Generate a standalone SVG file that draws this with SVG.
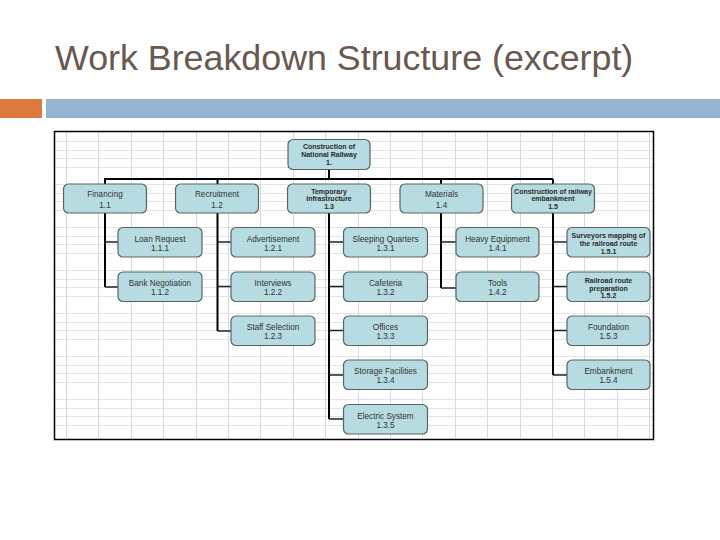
<svg xmlns="http://www.w3.org/2000/svg" width="720" height="540" viewBox="0 0 720 540">
<style>
.title{font-family:"Liberation Sans",Arial,sans-serif;font-size:35.8px;fill:#685850}
.box{fill:#b6dbe0;stroke:#5a6466;stroke-width:1.2}
.t{font-family:"Liberation Sans",Arial,sans-serif;font-size:8.2px;fill:#333;text-anchor:middle}
.b{font-family:"Liberation Sans",Arial,sans-serif;font-size:7px;font-weight:bold;fill:#2a2a2a;text-anchor:middle}
.gv{stroke:#d6dae0;stroke-width:1}
.gh{stroke:#e0e3e7;stroke-width:1}
.main{stroke:#000;stroke-width:2;fill:none}
.br{stroke:#222;stroke-width:1.6;fill:none}
</style>
<rect width="720" height="540" fill="#fff"/>
<text class="title" x="55" y="70">Work Breakdown Structure (excerpt)</text>
<rect x="0" y="99" width="42" height="19" fill="#dc7a3e"/>
<rect x="46" y="99" width="674" height="19" fill="#94b4d1"/>
<g id="sheet">
<rect x="54.5" y="131.5" width="599" height="308" fill="#fff"/>
<g class="gh">
<line x1="55" y1="141.5" x2="653" y2="141.5"/><line x1="55" y1="150.5" x2="653" y2="150.5"/><line x1="55" y1="158.5" x2="653" y2="158.5"/>
<line x1="55" y1="167.5" x2="653" y2="167.5"/><line x1="55" y1="184.5" x2="653" y2="184.5"/><line x1="55" y1="193.5" x2="653" y2="193.5"/><line x1="55" y1="201.5" x2="653" y2="201.5"/>
<line x1="55" y1="210.5" x2="653" y2="210.5"/><line x1="55" y1="227.5" x2="653" y2="227.5"/><line x1="55" y1="236.5" x2="653" y2="236.5"/><line x1="55" y1="244.5" x2="653" y2="244.5"/>
<line x1="55" y1="253.5" x2="653" y2="253.5"/><line x1="55" y1="270.5" x2="653" y2="270.5"/><line x1="55" y1="279.5" x2="653" y2="279.5"/><line x1="55" y1="287.5" x2="653" y2="287.5"/>
<line x1="55" y1="296.5" x2="653" y2="296.5"/><line x1="55" y1="313.5" x2="653" y2="313.5"/><line x1="55" y1="322.5" x2="653" y2="322.5"/><line x1="55" y1="330.5" x2="653" y2="330.5"/>
<line x1="55" y1="339.5" x2="653" y2="339.5"/><line x1="55" y1="356.5" x2="653" y2="356.5"/><line x1="55" y1="365.5" x2="653" y2="365.5"/><line x1="55" y1="373.5" x2="653" y2="373.5"/>
<line x1="55" y1="382.5" x2="653" y2="382.5"/><line x1="55" y1="399.5" x2="653" y2="399.5"/><line x1="55" y1="408.5" x2="653" y2="408.5"/><line x1="55" y1="416.5" x2="653" y2="416.5"/>
<line x1="55" y1="425.5" x2="653" y2="425.5"/>
</g>
<g class="gv">
<line x1="66.5" y1="132" x2="66.5" y2="439"/><line x1="98.5" y1="132" x2="98.5" y2="439"/><line x1="131.5" y1="132" x2="131.5" y2="439"/><line x1="163.5" y1="132" x2="163.5" y2="439"/>
<line x1="196.5" y1="132" x2="196.5" y2="439"/><line x1="228.5" y1="132" x2="228.5" y2="439"/><line x1="260.5" y1="132" x2="260.5" y2="439"/><line x1="293.5" y1="132" x2="293.5" y2="439"/>
<line x1="325.5" y1="132" x2="325.5" y2="439"/><line x1="358.5" y1="132" x2="358.5" y2="439"/><line x1="390.5" y1="132" x2="390.5" y2="439"/><line x1="422.5" y1="132" x2="422.5" y2="439"/>
<line x1="455.5" y1="132" x2="455.5" y2="439"/><line x1="487.5" y1="132" x2="487.5" y2="439"/><line x1="520.5" y1="132" x2="520.5" y2="439"/><line x1="552.5" y1="132" x2="552.5" y2="439"/>
<line x1="584.5" y1="132" x2="584.5" y2="439"/><line x1="617.5" y1="132" x2="617.5" y2="439"/><line x1="649.5" y1="132" x2="649.5" y2="439"/>
</g>
<rect x="54.5" y="131.5" width="599" height="308" fill="none" stroke="#000" stroke-width="1.5"/>
</g>
<g id="connectors">
<path class="main" d="M329 169V179M104 179H553M105 179V184M217.5 179V184M441 179V184M553 179V184"/>
<path class="main" d="M105 213V287M217.5 213V331M329 213V419M441 213V288M553 213V375"/>
<path class="br" d="M105 242H118M105 287H118"/>
<path class="br" d="M217.5 242H231M217.5 286.5H231M217.5 331H231"/>
<path class="br" d="M329 242H343.5M329 286.5H343.5M329 330.5H343.5M329 375H343.5M329 419H343.5"/>
<path class="br" d="M441 242H456M441 288H456"/>
<path class="br" d="M553 242H567M553 286.5H567M553 330.5H567M553 375H567"/>
</g>
<g id="n1"><rect class="box" x="288" y="139.5" width="82" height="30" rx="5"/><text class="b" x="329" y="149">Construction of</text><text class="b" x="329" y="157">National Railway</text><text class="b" x="329" y="165">1.</text></g>
<g id="n1-1"><rect class="box" x="63.5" y="184" width="83" height="29" rx="5"/><text class="t" x="105" y="196.5">Financing</text><text class="t" x="105" y="208">1.1</text></g>
<g id="n1-2"><rect class="box" x="175.5" y="184" width="83" height="29" rx="5"/><text class="t" x="217" y="196.5">Recruitment</text><text class="t" x="217" y="208">1.2</text></g>
<g id="n1-3"><rect class="box" x="287.5" y="184" width="83" height="29" rx="5"/><text class="b" x="329" y="193.5">Temporary</text><text class="b" x="329" y="201">Infrastructure</text><text class="b" x="329" y="208.5">1.3</text></g>
<g id="n1-4"><rect class="box" x="400" y="184" width="83" height="29" rx="5"/><text class="t" x="441.5" y="196.5">Materials</text><text class="t" x="441.5" y="208">1.4</text></g>
<g id="n1-5"><rect class="box" x="511.5" y="184" width="83" height="29" rx="5"/><text class="b" x="553" y="193.5">Construction of railway</text><text class="b" x="553" y="201">embankment</text><text class="b" x="553" y="208.5">1.5</text></g>
<g id="n1-1-1"><rect class="box" x="118" y="227.5" width="84" height="29.5" rx="5"/><text class="t" x="160" y="241.5">Loan Request</text><text class="t" x="160" y="250.5">1.1.1</text></g>
<g id="n1-1-2"><rect class="box" x="118" y="272" width="84" height="29.5" rx="5"/><text class="t" x="160" y="286">Bank Negotiation</text><text class="t" x="160" y="295">1.1.2</text></g>
<g id="n1-2-1"><rect class="box" x="231" y="227.5" width="84" height="29.5" rx="5"/><text class="t" x="273" y="241.5">Advertisement</text><text class="t" x="273" y="250.5">1.2.1</text></g>
<g id="n1-2-2"><rect class="box" x="231" y="272" width="84" height="29.5" rx="5"/><text class="t" x="273" y="286">Interviews</text><text class="t" x="273" y="295">1.2.2</text></g>
<g id="n1-2-3"><rect class="box" x="231" y="316" width="84" height="29.5" rx="5"/><text class="t" x="273" y="330">Staff Selection</text><text class="t" x="273" y="339">1.2.3</text></g>
<g id="n1-3-1"><rect class="box" x="343.5" y="227.5" width="84" height="29.5" rx="5"/><text class="t" x="385.5" y="241.5">Sleeping Quarters</text><text class="t" x="385.5" y="250.5">1.3.1</text></g>
<g id="n1-3-2"><rect class="box" x="343.5" y="272" width="84" height="29.5" rx="5"/><text class="t" x="385.5" y="286">Cafeteria</text><text class="t" x="385.5" y="295">1.3.2</text></g>
<g id="n1-3-3"><rect class="box" x="343.5" y="316" width="84" height="29.5" rx="5"/><text class="t" x="385.5" y="330">Offices</text><text class="t" x="385.5" y="339">1.3.3</text></g>
<g id="n1-3-4"><rect class="box" x="343.5" y="360" width="84" height="29.5" rx="5"/><text class="t" x="385.5" y="374">Storage Facilities</text><text class="t" x="385.5" y="383">1.3.4</text></g>
<g id="n1-3-5"><rect class="box" x="343.5" y="404.5" width="84" height="29.5" rx="5"/><text class="t" x="385.5" y="418.5">Electric System</text><text class="t" x="385.5" y="427.5">1.3.5</text></g>
<g id="n1-4-1"><rect class="box" x="456" y="227.5" width="83" height="29.5" rx="5"/><text class="t" x="497.5" y="241.5">Heavy Equipment</text><text class="t" x="497.5" y="250.5">1.4.1</text></g>
<g id="n1-4-2"><rect class="box" x="456" y="272" width="83" height="29.5" rx="5"/><text class="t" x="497.5" y="286">Tools</text><text class="t" x="497.5" y="295">1.4.2</text></g>
<g id="n1-5-1"><rect class="box" x="567" y="227.5" width="83" height="29.5" rx="5"/><text class="b" x="608.5" y="237.5">Surveyors mapping of</text><text class="b" x="608.5" y="246">the railroad route</text><text class="b" x="608.5" y="254">1.5.1</text></g>
<g id="n1-5-2"><rect class="box" x="567" y="272" width="83" height="29.5" rx="5"/><text class="b" x="608.5" y="282.5">Railroad route</text><text class="b" x="608.5" y="290.5">preparation</text><text class="b" x="608.5" y="298">1.5.2</text></g>
<g id="n1-5-3"><rect class="box" x="567" y="316" width="83" height="29.5" rx="5"/><text class="t" x="608.5" y="330">Foundation</text><text class="t" x="608.5" y="339">1.5.3</text></g>
<g id="n1-5-4"><rect class="box" x="567" y="360" width="83" height="29.5" rx="5"/><text class="t" x="608.5" y="374">Embankment</text><text class="t" x="608.5" y="383">1.5.4</text></g>
</svg>
